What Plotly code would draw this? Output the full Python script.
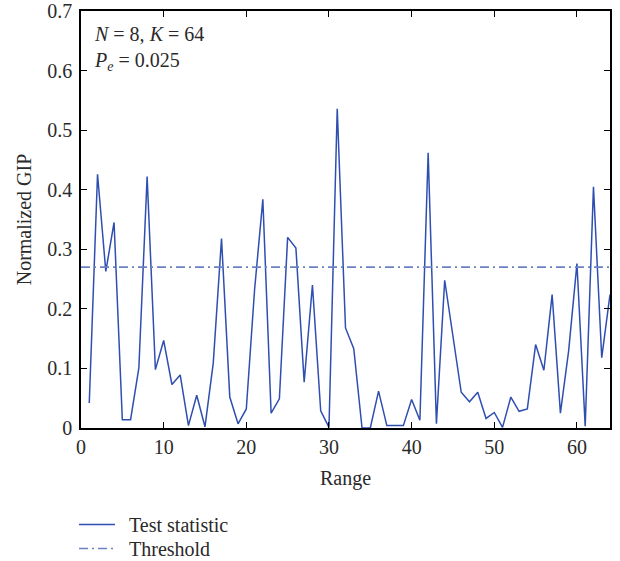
import plotly.graph_objects as go

range_bins = list(range(1, 65))
test_statistic = [
    0.042, 0.426, 0.263, 0.345, 0.014, 0.014, 0.101, 0.422, 0.098, 0.147,
    0.073, 0.089, 0.004, 0.055, 0.002, 0.109, 0.318, 0.052, 0.007, 0.032,
    0.232, 0.384, 0.025, 0.049, 0.320, 0.302, 0.077, 0.240, 0.029, 0.001,
    0.536, 0.168, 0.133, 0.000, 0.000, 0.062, 0.004, 0.004, 0.004, 0.048,
    0.013, 0.462, 0.007, 0.248, 0.150, 0.060, 0.044, 0.060, 0.016, 0.026,
    0.001, 0.052, 0.028, 0.032, 0.140, 0.097, 0.224, 0.025, 0.130, 0.276,
    0.003, 0.405, 0.118, 0.224,
]
threshold_x = [0, 64]
threshold_value = 0.27
x_ticks = [0, 10, 20, 30, 40, 50, 60]
y_ticks = [0, 0.1, 0.2, 0.3, 0.4, 0.5, 0.6, 0.7]

FONT = "Liberation Serif, Times New Roman, serif"
TXT = "#2a2a2a"
MAIN = "#2f4fb0"
THR = "#6a82c4"
GAP = "\u00a0\u2009"

fig = go.Figure()
fig.add_trace(go.Scatter(x=range_bins, y=test_statistic, mode="lines",
                         name=GAP + "Test statistic", legend="legend",
                         line=dict(color=MAIN, width=1.5)))
fig.add_trace(go.Scatter(x=threshold_x, y=[threshold_value] * len(threshold_x),
                         mode="lines", name=GAP + "Threshold", legend="legend2",
                         line=dict(color=THR, width=1.6, dash="9px,4px,2px,4px")))

axis_common = dict(showline=True, linecolor="black", linewidth=1.5,
                   mirror="ticks", ticks="inside", ticklen=6, tickwidth=1.2,
                   tickcolor="black", showgrid=False, zeroline=False,
                   automargin=False,
                   tickfont=dict(family=FONT, size=20, color=TXT))

legend_common = dict(xanchor="left", yanchor="top",
                     font=dict(family=FONT, size=20, color=TXT), itemwidth=36,
                     bgcolor="rgba(0,0,0,0)", tracegroupgap=0)

fig.update_layout(
    width=620, height=561,
    margin=dict(l=81, r=10, t=11, b=133, autoexpand=False),
    paper_bgcolor="white", plot_bgcolor="white",
    font=dict(family=FONT, size=20, color=TXT),
    xaxis=dict(range=[0, 64], tickvals=x_ticks,
               title=dict(text="Range", font=dict(family=FONT, size=20, color=TXT), standoff=14),
               **axis_common),
    yaxis=dict(range=[0, 0.7], tickvals=y_ticks, ticklabelstandoff=3,
               title=dict(text="Normalized GIP", font=dict(family=FONT, size=20, color=TXT), standoff=10),
               **axis_common),
    showlegend=True,
    legend=dict(x=-0.0132, y=-0.1847, **legend_common),
    legend2=dict(x=-0.0132, y=-0.2422, **legend_common),
    annotations=[dict(xref="paper", yref="paper", x=0.021, y=0.975,
                      xanchor="left", yanchor="top", align="left",
                      showarrow=False,
                      text="<i>N</i> = 8, <i>K</i> = 64<br><i>P<sub>e</sub></i> = 0.025",
                      font=dict(family=FONT, size=20, color=TXT))],
)

fig.write_html("out.html", config={"displayModeBar": False},
               post_script="document.body.style.margin='0';document.body.style.overflow='hidden';")
